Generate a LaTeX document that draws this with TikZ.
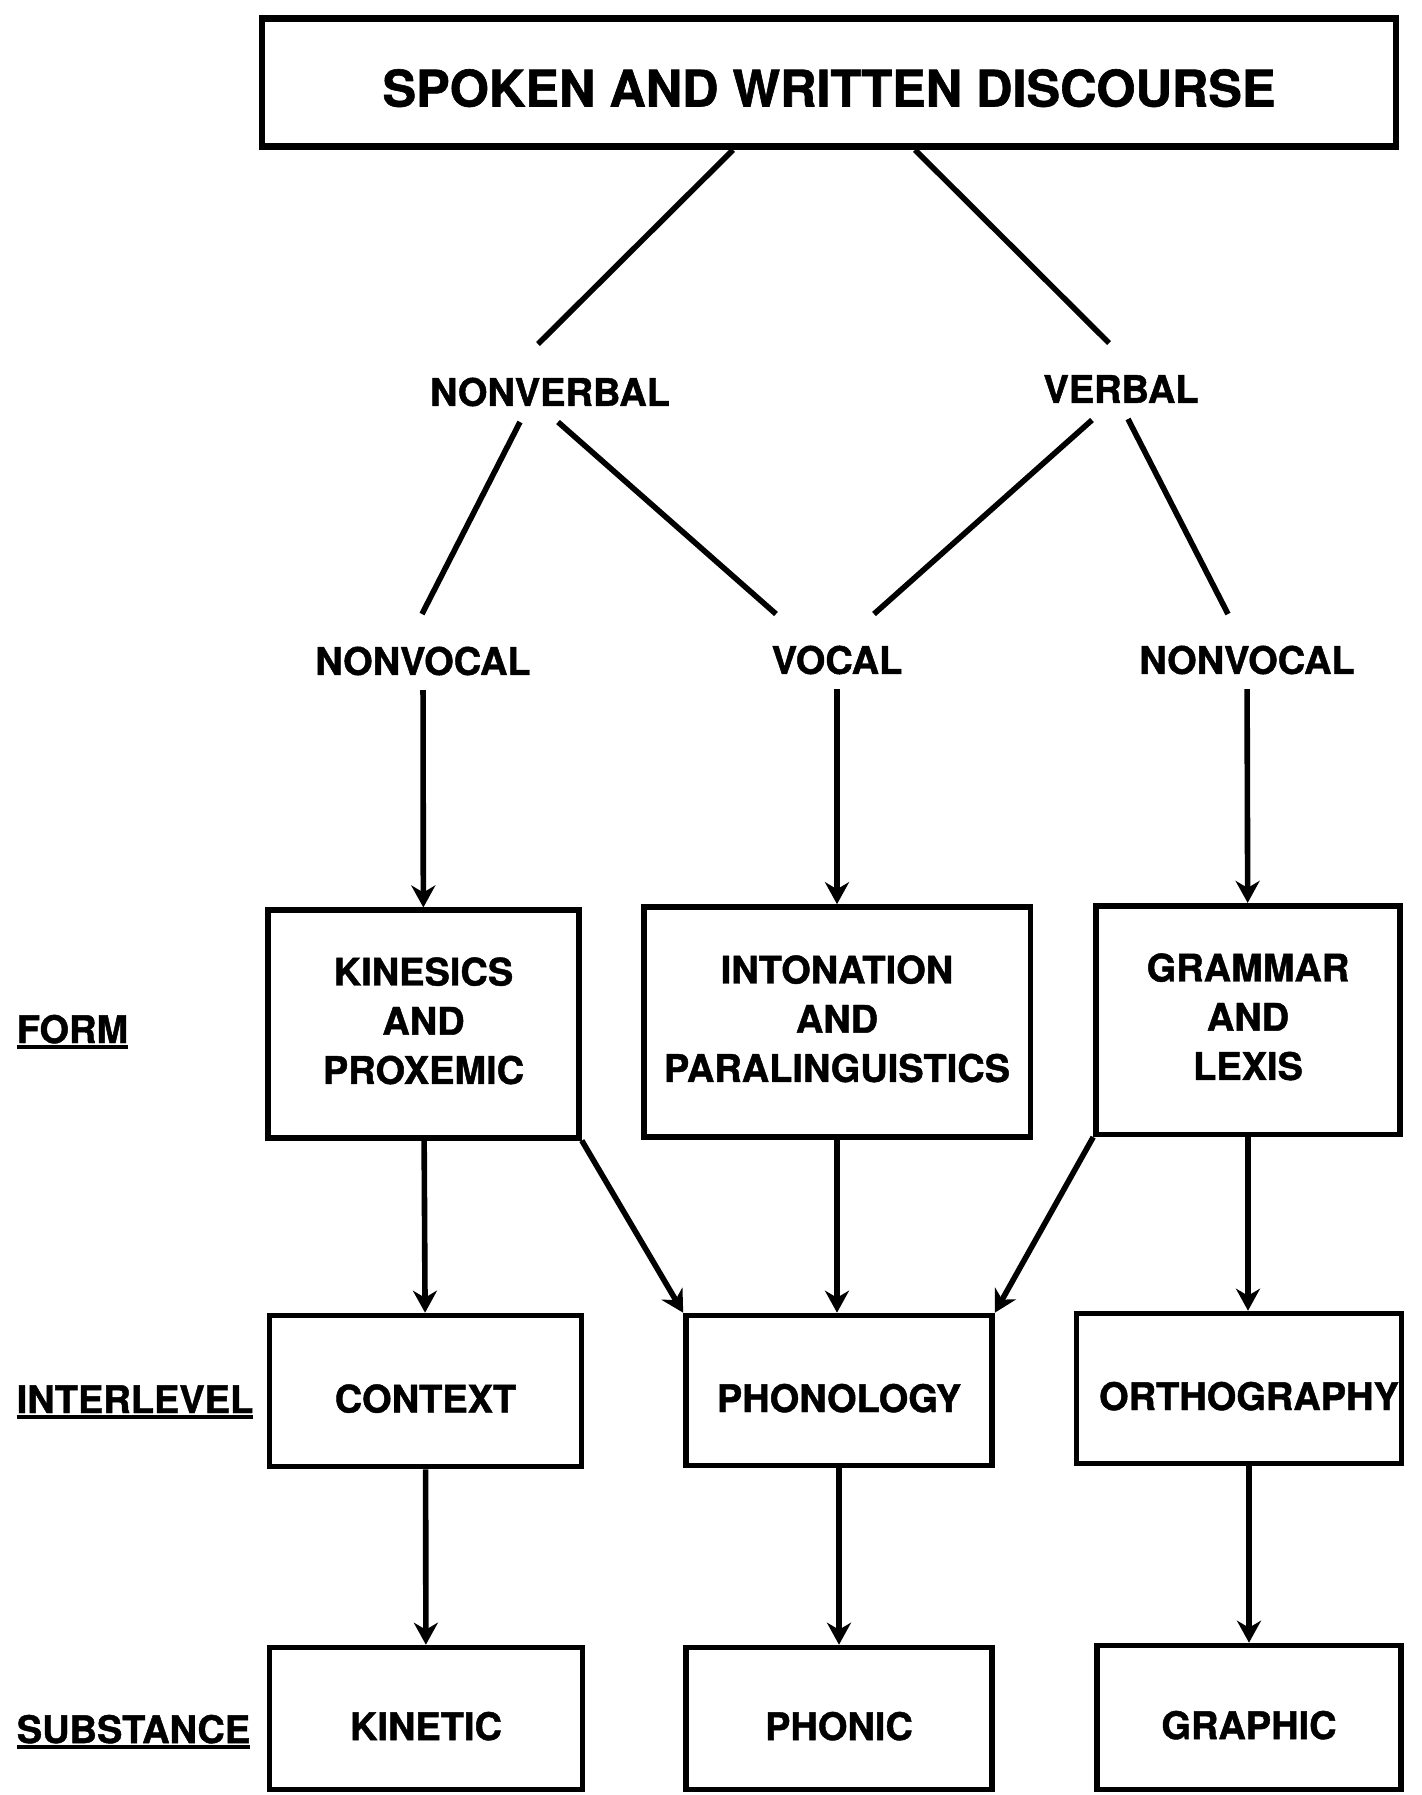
\documentclass[tikz,border=0pt]{standalone}
\usepackage{fontspec}
\setmainfont{TeX Gyre Heros}[BoldFeatures={FakeBold=1.2}]
\usetikzlibrary{arrows.meta,calc}
\newsavebox{\wordbox}
\newcommand{\uword}[1]{\sbox{\wordbox}{#1}\rlap{\rule[-3pt]{\wd\wordbox}{2.2pt}}\usebox{\wordbox}}

\begin{document}
\begin{tikzpicture}[
			x=0.5pt, y=-0.5pt,
			>={Stealth[length=11pt,width=12pt,inset=3.5pt]},
			line width=2.8pt,
			every node/.style={font=\bfseries\fontsize{19}{24.6}\selectfont, align=center},
			level/.style={draw, line width=2.8pt, inner sep=0pt},
			low/.style={text height=21.5pt, text depth=0pt},
			high/.style={text depth=3.4pt},
			tag/.style={inner sep=6pt},
			side/.style={anchor=base west, inner sep=0pt}
			]
			\useasboundingbox (0,0) rectangle (1421,1795);
			
			\node[level, line width=3.4pt, minimum width=567pt, minimum height=64pt, text height=24pt, text depth=0pt, font=\bfseries\fontsize{25.2}{30}\selectfont] (discourse) at (829,82.5) {SPOKEN AND WRITTEN DISCOURSE};
			
			\node[tag] (nonverbal) at (550,392) {NONVERBAL};
			\node[tag] (verbal) at (1121,389) {VERBAL};
			\node[tag] (nvleft) at (423,661) {NONVOCAL};
			\node[tag] (vocal) at (837,660) {VOCAL};
			\node[tag] (nvright) at (1247,660) {NONVOCAL};
			
			\node[level, high, minimum width=155.5pt, minimum height=113.75pt] (kinesics) at (423.5,1024) {KINESICS\\AND\\PROXEMIC};
			\node[level, high, minimum width=193.3pt, minimum height=115pt] (intonation) at (837,1022) {INTONATION\\AND\\PARALINGUISTICS};
			\node[level, high, minimum width=152pt, minimum height=114.3pt] (grammar) at (1248,1020) {GRAMMAR\\AND\\LEXIS};
			
			\node[level, low, minimum width=156pt, minimum height=75.5pt] (context) at (425.5,1391) {CONTEXT};
			\node[level, low, minimum width=153pt, minimum height=75pt] (phonology) at (839,1390.5) {PHONOLOGY};
			\node[level, low, minimum width=162.5pt, minimum height=75pt] (ortho) at (1239,1388.5) {\hspace*{10pt}ORTHOGRAPHY};
			
			\node[level, low, minimum width=156.5pt, minimum height=71pt] (kinetic) at (426,1718.5) {KINETIC};
			\node[level, low, minimum width=153pt, minimum height=71pt] (phonic) at (839,1718.5) {PHONIC};
			\node[level, low, minimum width=152pt, minimum height=72pt] (graphic) at (1249,1717.5) {GRAPHIC};
			
			\node[side] (form) at (14,1043) {\uword{FORM}};
			\node[side] (inter) at (14,1413) {\uword{INTERLEVEL}};
			\node[side] (subst) at (14,1743) {\uword{SUBSTANCE}};
			
			\path ($(discourse.south)+(-96,0)$) edge ($(nonverbal)+(-12,-48)$);
			\path ($(discourse.south)+(86,0)$) edge ($(verbal)+(-12,-46)$);
			\path ($(nonverbal)+(-30,30)$) edge ($(nvleft)+(-1,-47)$);
			\path ($(nonverbal)+(8,30)$) edge ($(vocal)+(-61,-46)$);
			\path ($(verbal)+(-29,31)$) edge ($(vocal)+(37,-46)$);
			\path ($(verbal)+(7,30)$) edge ($(nvright)+(-19,-46)$);
			
			\path[->] (nvleft) edge (kinesics);
			\path[->] (vocal) edge (intonation);
			\path[->] (nvright) edge (grammar);
			
			\path[->] (kinesics) edge (context);
			\path[->] (kinesics.south east) edge (phonology.north west);
			\path[->] (intonation.south) edge (intonation.south |- phonology.north);
			\path[->] (grammar.south west) edge (phonology.north east);
			\path[->] (grammar.south) edge (grammar.south |- ortho.north);
			
			\path[->] (context) edge (kinetic);
			\path[->] (phonology) edge (phonic);
			\path[->] (ortho.south -| graphic.north) edge (graphic);
		\end{tikzpicture}
\end{document}
